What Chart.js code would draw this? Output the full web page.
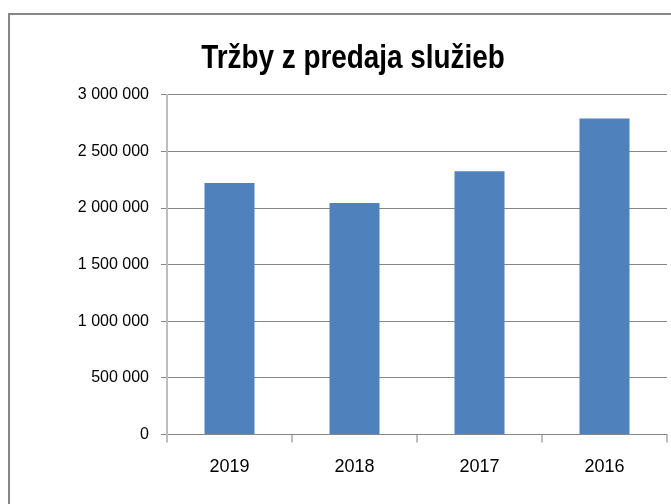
<!DOCTYPE html>
<html lang="sk">
<head>
<meta charset="utf-8">
<title>Tržby z predaja služieb</title>
<script src="https://cdn.jsdelivr.net/npm/chart.js@4/dist/chart.umd.min.js"></script>
<style>
  html, body { margin: 0; padding: 0; background: #fff; overflow: hidden; }
  .wrap { position: relative; width: 671px; height: 504px; }
  .frame { position: absolute; left: 8px; top: 13px; width: 720px; height: 560px; border: 2px solid #878787; }
  canvas { position: absolute; left: 0; top: 0; }
</style>
</head>
<body>
<div class="wrap">
  <div class="frame"></div>
  <canvas id="chart" width="671" height="504"></canvas>
</div>
<script>
  'use strict';

  const years = ['2019', '2018', '2017', '2016'];
  const trzby = [2220000, 2045000, 2325000, 2790000];
  const yTicks = [0, 500000, 1000000, 1500000, 2000000, 2500000, 3000000];
  const titleText = 'Tržby z predaja služieb';

  const formatNumber = (value) => String(value).replace(/\B(?=(\d{3})+(?!\d))/g, ' ');

  // the original title uses a condensed face; no narrow font is installed, so squeeze it
  const narrowTitle = {
    id: 'narrowTitle',
    afterDraw(chart) {
      const box = chart.titleBlock;
      if (!box) return;
      const c = chart.ctx;
      c.save();
      c.font = 'bold 34px "Liberation Sans", Arial, sans-serif';
      c.fillStyle = '#000';
      c.textAlign = 'center';
      c.textBaseline = 'middle';
      c.translate((box.left + box.right) / 2, box.top + 20.4);
      c.scale(0.82, 1);
      c.fillText(titleText, 0, 0);
      c.restore();
    }
  };

  const ctx = document.getElementById('chart').getContext('2d');
  new Chart(ctx, {
    type: 'bar',
    data: {
      labels: years,
      datasets: [{
        label: titleText,
        data: trzby,
        backgroundColor: '#4F81BD',
        borderWidth: 0,
        categoryPercentage: 1,
        barPercentage: 0.4
      }]
    },
    options: {
      responsive: false,
      animation: false,
      devicePixelRatio: 1,
      layout: { padding: { left: 39, right: 4, top: 38, bottom: 12 } },
      plugins: {
        legend: { display: false },
        tooltip: { enabled: false },
        title: {
          display: true,
          text: titleText,
          color: 'rgba(0,0,0,0)',
          font: { family: '"Liberation Sans", Arial, sans-serif', size: 34, weight: 'bold', lineHeight: 1.2 },
          padding: { top: 0, bottom: 16 }
        }
      },
      scales: {
        x: {
          grid: { display: true, drawOnChartArea: false, drawTicks: true, tickLength: 8, color: '#bdbdbd', lineWidth: 2, offset: true },
          border: { display: false },
          ticks: {
            color: '#000',
            padding: 14,
            font: { family: '"Liberation Sans", Arial, sans-serif', size: 18 }
          }
        },
        y: {
          min: 0,
          max: 3000000,
          afterBuildTicks: (scale) => { scale.ticks = yTicks.map((value) => ({ value })); },
          afterFit: (scale) => { scale.width = 128; },
          grid: { color: '#868686', lineWidth: 1, tickLength: 6 },
          border: { display: true, color: '#bdbdbd', width: 2 },
          ticks: {
            color: '#000',
            padding: 12,
            font: { family: '"Liberation Sans", Arial, sans-serif', size: 16 },
            callback: (value) => formatNumber(value)
          }
        }
      }
    },
    plugins: [narrowTitle]
  });
</script>
</body>
</html>
